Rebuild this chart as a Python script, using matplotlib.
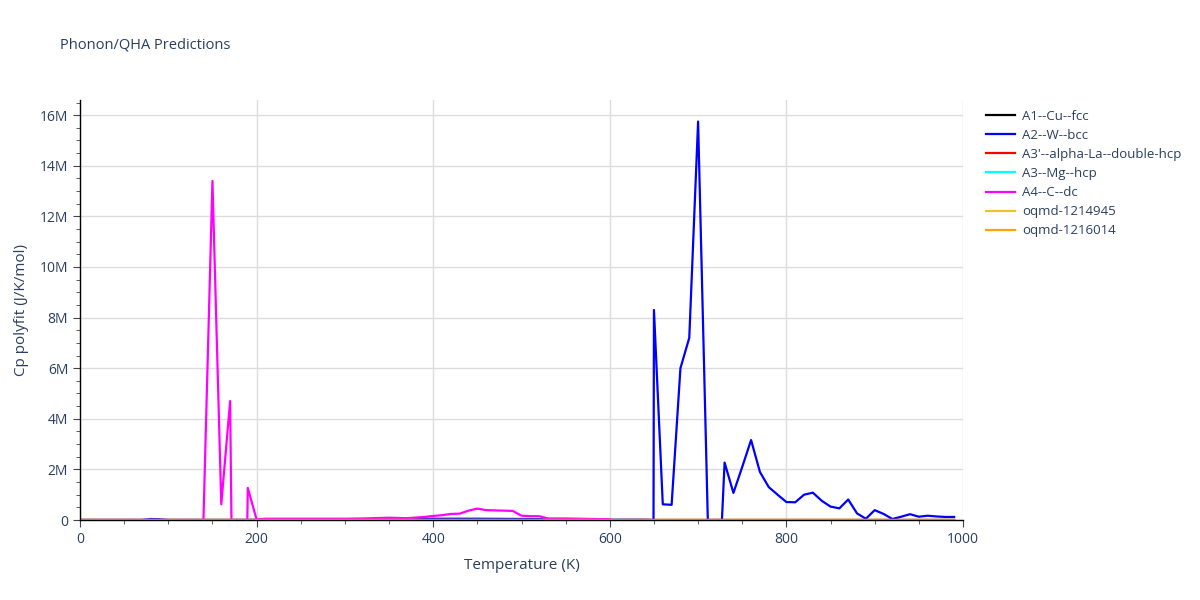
import numpy as np
import matplotlib
matplotlib.use("Agg")
import matplotlib.pyplot as plt
from matplotlib.ticker import MultipleLocator, FuncFormatter

plt.rcParams['font.family'] = ['Open Sans', 'DejaVu Sans']

# ---- data (Cp in J/K/mol) ----
# A1--Cu--fcc : essentially zero
cu_T = list(range(0, 1000, 10))
cu_cp = [0.0] * len(cu_T)

# A2--W--bcc
w_T = ([0, 10, 20, 30, 40, 50, 60, 70, 80, 90, 100, 110, 120, 130, 140, 150, 160, 170, 180, 190,
        200, 250, 300, 350, 380, 400, 450, 500, 550, 600, 640, 649.5,
        650, 660, 670, 680, 690, 700, 711, 727,
        730, 740, 750, 760, 770, 780, 790, 800, 810, 820, 830, 840, 850, 860, 870, 880, 890,
        900, 910, 920, 930, 940, 950, 960, 970, 980, 990])
w_cp = ([0, 0, 0, 0, 0, 0, 0, 0, 0.04e6, 0.03e6, 0, 0, 0, 0, 0, 0, 0, 0, 0, 0,
         0.01e6, 0.01e6, 0.01e6, 0.02e6, 0.05e6, 0.05e6, 0.05e6, 0.04e6, 0.02e6, 0.01e6, 0.01e6, 0.0,
         8.3e6, 0.62e6, 0.6e6, 6.0e6, 7.2e6, 15.75e6, 0.0, 0.0,
         2.27e6, 1.07e6, 2.1e6, 3.16e6, 1.9e6, 1.3e6, 1.0e6, 0.71e6, 0.7e6, 1.0e6, 1.08e6, 0.76e6,
         0.53e6, 0.46e6, 0.81e6, 0.26e6, 0.05e6,
         0.39e6, 0.24e6, 0.04e6, 0.13e6, 0.23e6, 0.13e6, 0.17e6, 0.14e6, 0.12e6, 0.12e6])

# A3'--alpha-La--double-hcp : essentially zero
la_T = list(range(0, 1000, 10))
la_cp = [0.0] * len(la_T)

# A3--Mg--hcp : essentially zero up to 620 K
mg_T = list(range(0, 630, 10))
mg_cp = [0.0] * len(mg_T)

# A4--C--dc
c_T = ([0, 50, 100, 130, 139.8, 150, 160, 170, 171.5, 189.5, 190, 200,
        210, 250, 300, 320, 330, 350, 370, 390, 400, 410, 420, 430, 440, 450, 460, 470, 480, 490,
        500, 510, 520, 530, 550, 580, 600])
c_cp = ([0, 0, 0, 0, 0, 13.4e6, 0.62e6, 4.7e6, 0.0, 0.0, 1.27e6, 0.02e6,
         0.05e6, 0.05e6, 0.05e6, 0.06e6, 0.07e6, 0.09e6, 0.07e6, 0.12e6, 0.16e6, 0.19e6, 0.24e6, 0.25e6,
         0.37e6, 0.45e6, 0.39e6, 0.38e6, 0.37e6, 0.36e6,
         0.17e6, 0.15e6, 0.15e6, 0.06e6, 0.06e6, 0.04e6, 0.03e6])

# oqmd-1214945
o1_T = list(range(0, 1000, 10))
o1_cp = [0.0] * len(o1_T)

# oqmd-1216014
o2_T = list(range(0, 1000, 10))
o2_cp = [0.0] * len(o2_T)

series = [
    ("A1--Cu--fcc", cu_T, cu_cp, "#000000"),
    ("A2--W--bcc", w_T, w_cp, "#0000ff"),
    ("A3'--alpha-La--double-hcp", la_T, la_cp, "#ff0000"),
    ("A3--Mg--hcp", mg_T, mg_cp, "#00ffff"),
    ("A4--C--dc", c_T, c_cp, "#ff00ff"),
    ("oqmd-1214945", o1_T, o1_cp, "#f0c030"),
    ("oqmd-1216014", o2_T, o2_cp, "#ffa500"),
]

text_color = "#2a3f5f"

fig = plt.figure(figsize=(12, 6), dpi=100)
ax = fig.add_axes([80 / 1200, 80 / 600, (963 - 80) / 1200, (500 - 80) / 600])

for name, T, cp, col in series:
    ax.plot(T, cp, color=col, lw=1.6, label=name, solid_joinstyle='round')

ax.set_xlim(0, 1000)
ax.set_ylim(0, 16.6e6)

ax.xaxis.set_major_locator(MultipleLocator(200))
ax.xaxis.set_minor_locator(MultipleLocator(50))
ax.yaxis.set_major_locator(MultipleLocator(2e6))
ax.yaxis.set_minor_locator(MultipleLocator(0.5e6))

def yfmt(v, pos):
    if v == 0:
        return "0"
    return f"{v/1e6:g}M"
ax.yaxis.set_major_formatter(FuncFormatter(yfmt))

ax.grid(True, which='major', color='#dddddd', lw=1)
ax.set_axisbelow(True)
for s in ['top', 'right']:
    ax.spines[s].set_visible(False)
for s in ['left', 'bottom']:
    ax.spines[s].set_color('#000000')
    ax.spines[s].set_linewidth(1)

ax.tick_params(axis='both', which='major', length=5, color='#444444', labelsize=10, labelcolor=text_color)
ax.tick_params(axis='both', which='minor', length=3, color='#444444')

ax.set_xlabel("Temperature (K)", fontsize=11, color=text_color, labelpad=8)
ax.set_ylabel("Cp polyfit (J/K/mol)", fontsize=11, color=text_color, labelpad=8)

fig.text(60 / 1200, 1 - 45 / 600, "Phonon/QHA Predictions", fontsize=10.5, color=text_color, va='center', ha='left')

leg = ax.legend(loc='upper left', bbox_to_anchor=(1.015, 1.0), frameon=False, fontsize=9.5,
                labelcolor=text_color, handlelength=2.2, handletextpad=0.5, labelspacing=0.46,
                borderaxespad=0.35)

fig.savefig("out.png", dpi=100)
